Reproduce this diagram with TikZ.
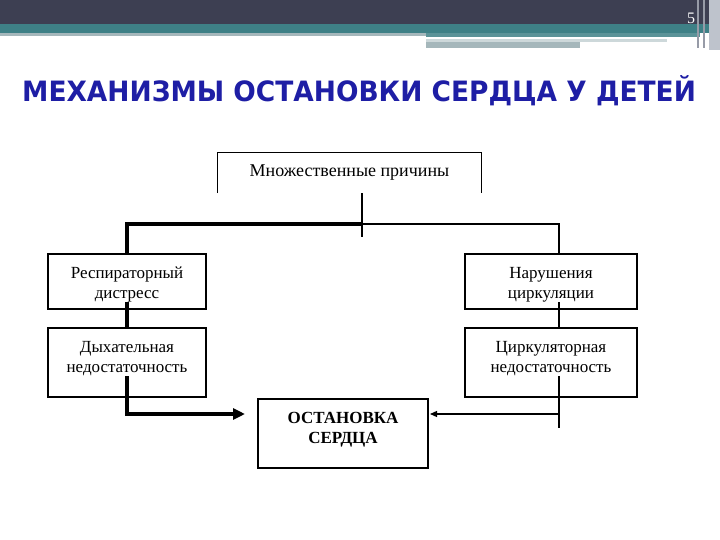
\documentclass[tikz,border=0pt]{standalone}
\usepackage{fontspec}
\setmainfont{Liberation Serif}
\newfontfamily\titlefont{DejaVu Sans}
\usetikzlibrary{arrows.meta, positioning, backgrounds}
\definecolor{ink}{RGB}{0,0,0}
\definecolor{bandslate}{RGB}{61,63,82}
\definecolor{bandteal}{RGB}{62,128,134}
\definecolor{bandgrey}{RGB}{165,183,187}
\definecolor{bandlight}{RGB}{205,216,218}
\definecolor{stripgrey}{RGB}{190,195,204}
\definecolor{titleblue}{RGB}{30,30,165}
\newcommand{\topgap}{\rule{0pt}{23pt}}

\begin{document}
\begin{tikzpicture}[
    x=1pt, y=-1pt,
    frame/.style={rectangle, draw=ink, line width=1.1pt, inner sep=0pt, outer sep=0pt},
    boxtext/.style={fill=white, inner xsep=3pt, inner ysep=0pt, align=center,
                    anchor=north, font=\fontsize{17}{20}\selectfont},
    thinline/.style={draw=ink, line width=1.2pt},
    thinarr/.style={thinline, -{Triangle[length=7pt, width=6pt]}},
    heavy/.style={draw=ink, line width=4pt, -{Triangle[length=12pt, width=11pt]}}
  ]
    \useasboundingbox (0,0) rectangle (720,540);

    % slide header
    \fill[bandslate] (0,0) rectangle (720,24);
    \fill[bandteal] (0,24) rectangle (720,33);
    \fill[bandgrey] (0,33) rectangle (426,36);
    \fill[bandteal!85!white] (426,33) rectangle (700,37);
    \fill[bandlight] (426,39) rectangle (667,42);
    \fill[bandgrey] (426,42) rectangle (580,48);
    \fill[stripgrey!70!bandslate] (697,0) rectangle (699,48);
    \fill[stripgrey!70!bandslate] (703,0) rectangle (705,48);
    \fill[stripgrey] (709,0) rectangle (720,50);
    \node[font=\fontsize{16}{18}\selectfont, text=white, inner sep=0pt] (pagenum) at (691,18) {5};

    \node[font=\titlefont\bfseries\fontsize{28}{34}\selectfont, text=titleblue,
          anchor=west, inner sep=0pt, xscale=0.945] (title) at (22,91)
          {МЕХАНИЗМЫ ОСТАНОВКИ СЕРДЦА У ДЕТЕЙ};

    % boxes
    \node[minimum width=263pt, minimum height=40pt, inner sep=0pt,
          font=\fontsize{18}{20}\selectfont] (causes) at (349.5,173)
          {Множественные причины};
    \draw[thinline] (causes.south west) -- (causes.north west)
                    -- (causes.north east) -- (causes.south east);

    \node[frame, minimum width=158pt, minimum height=55pt] (resp) at (127,281.5) {};
    \node[frame, minimum width=158pt, minimum height=69pt, below=19pt of resp] (dyh) {};
    \node[frame, minimum width=172pt, minimum height=55pt] (narush) at (551,281.5) {};
    \node[frame, minimum width=172pt, minimum height=69pt, below=19pt of narush] (cirk) {};
    \node[frame, minimum width=170pt, minimum height=69pt] (stop) at (343,433.5) {};

    \node[boxtext] (resp-t) at ([yshift=-1.2pt]resp.north) {\topgap Респираторный\\дистресс};
    \node[boxtext] (dyh-t) at ([yshift=-1.2pt]dyh.north) {\topgap Дыхательная\\недостаточность};
    \node[boxtext] (narush-t) at ([yshift=-1.2pt]narush.north) {\topgap Нарушения\\циркуляции};
    \node[boxtext] (cirk-t) at ([yshift=-1.2pt]cirk.north) {\topgap Циркуляторная\\недостаточность};
    \node[boxtext, fill=none, font=\bfseries\fontsize{17}{20}\selectfont]
         (stop-t) at ([yshift=-1.2pt]stop.north) {\topgap ОСТАНОВКА\\СЕРДЦА};

    % connectors
    \coordinate (jn) at (362,224);
    \coordinate (jnend) at (362,237);
    \coordinate (lhead) at (245,414);
    \coordinate (rhead) at (430,414);
    \coordinate (rend) at (559,428);
    \begin{scope}[on background layer]
      \draw[thinline] (causes.south -| jn) -- (jnend);
      \draw[heavy] (jn) -| (resp.center |- lhead) -- (lhead);
      \draw[thinline] (jn) -| (rend);
      \draw[thinarr] (rend |- rhead) -- (rhead);
    \end{scope}
  \end{tikzpicture}
\end{document}
